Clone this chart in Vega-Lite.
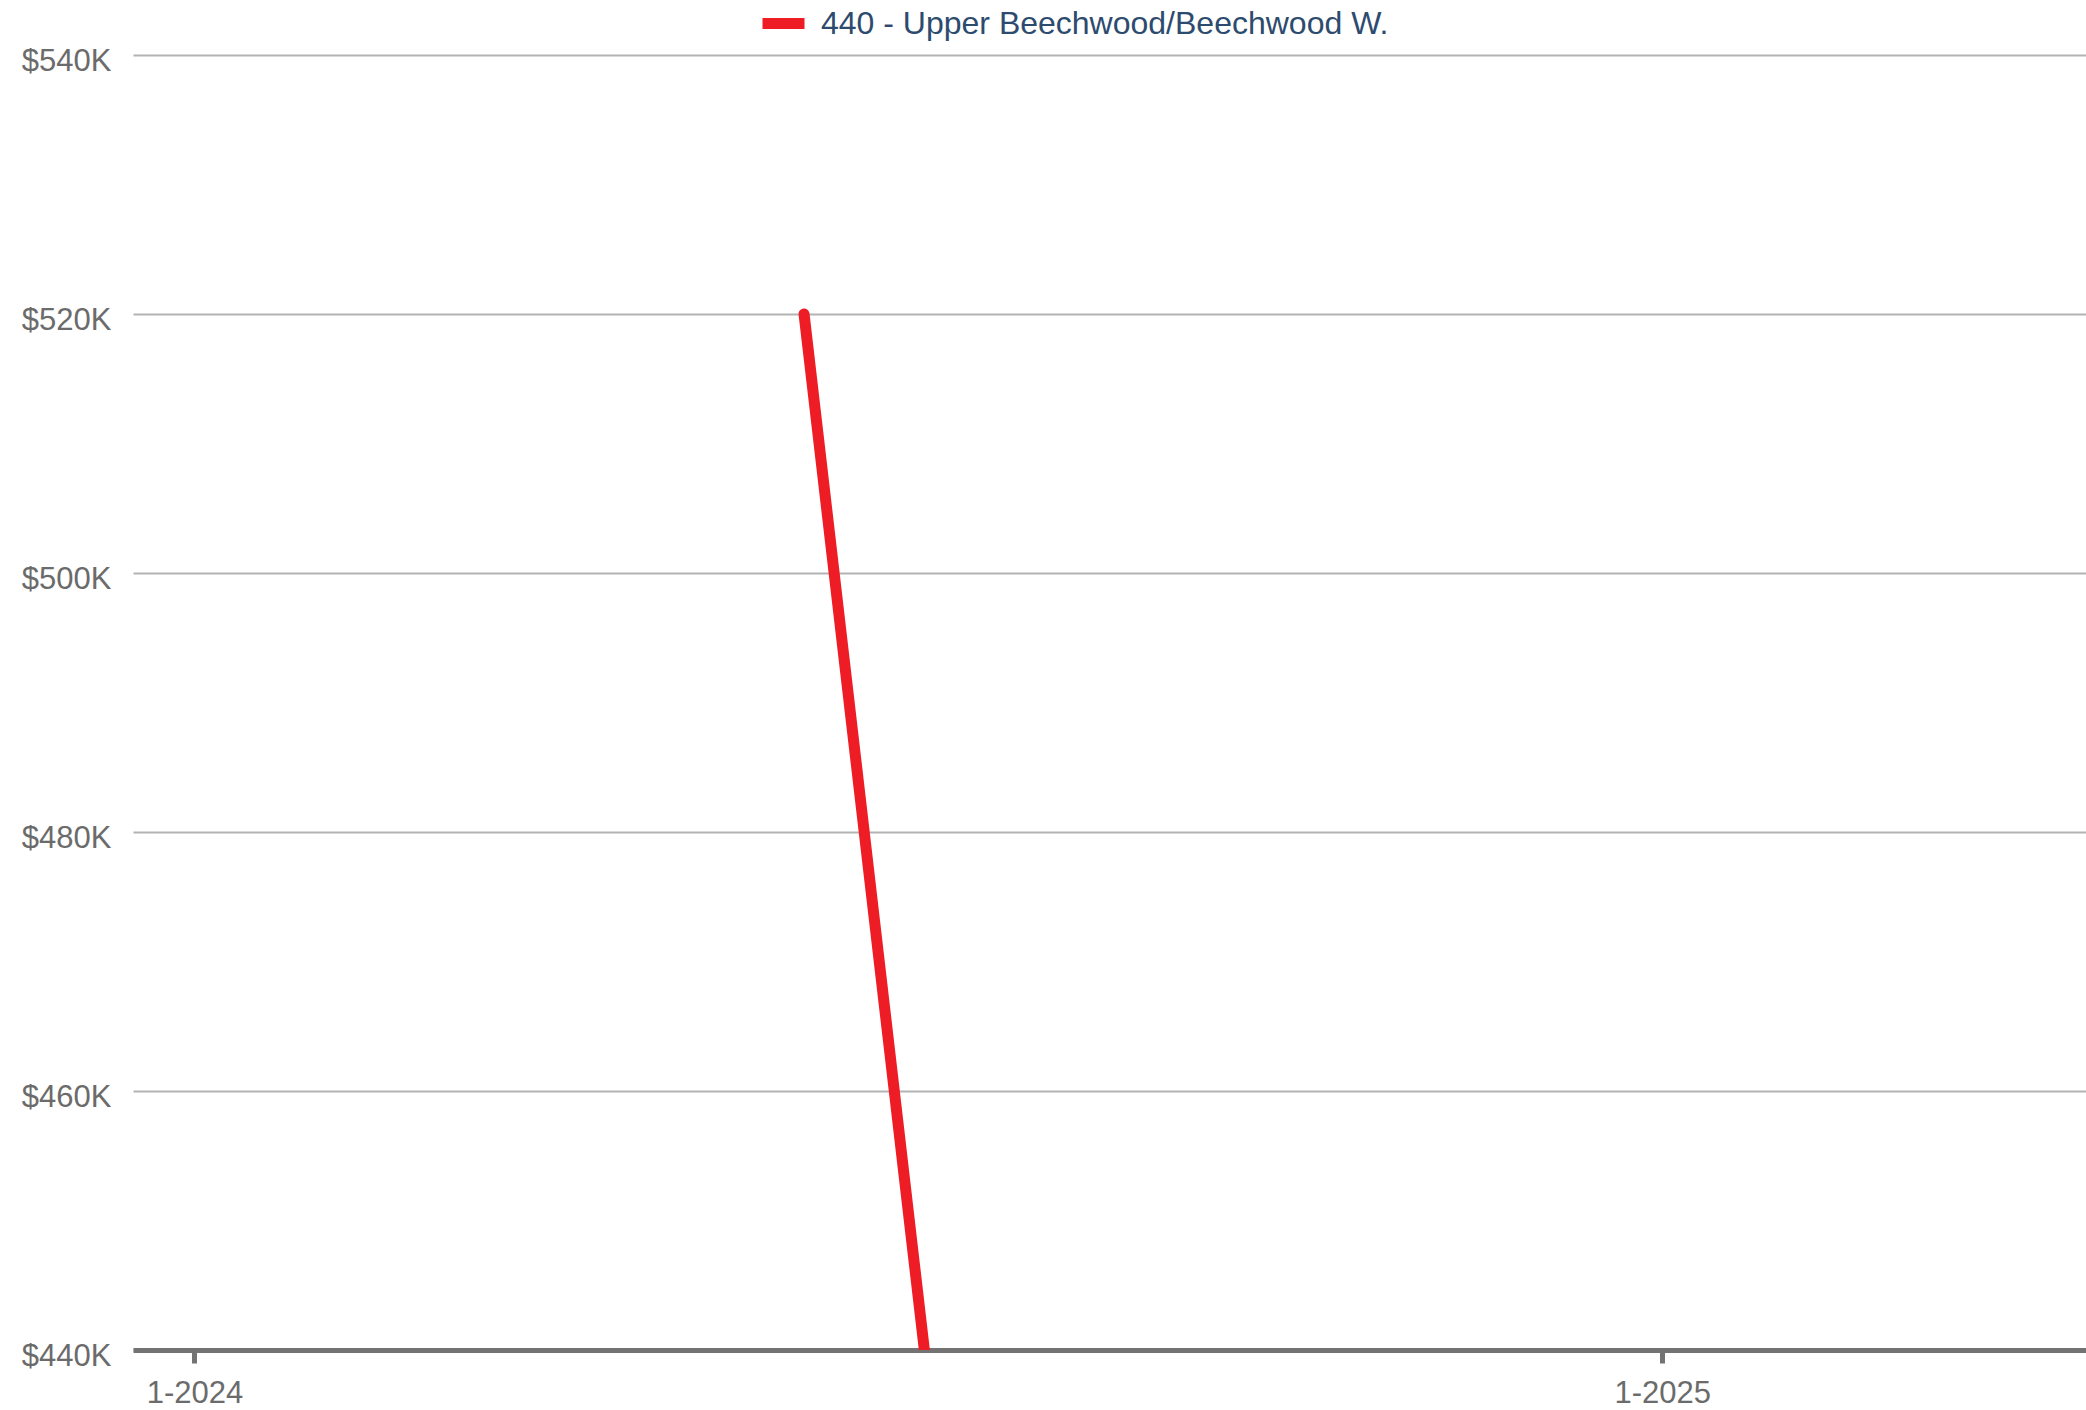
{
  "$schema": "https://vega.github.io/schema/vega-lite/v6.json",
  "autosize": {"type": "none"},
  "width": 1953,
  "height": 1295,
  "padding": {"left": 133, "top": 55, "right": 0, "bottom": 60},
  "background": "white",
  "config": {"view": {"stroke": null}, "font": "Liberation Sans"},
  "data": {"values": [
    {"date": "2024-06-01", "price": 520000, "series": "440 - Upper Beechwood/Beechwood W."},
    {"date": "2024-07-01", "price": 440000, "series": "440 - Upper Beechwood/Beechwood W."}
  ]},
  "mark": {"type": "line", "clip": true, "strokeWidth": 11, "strokeCap": "round", "strokeJoin": "round"},
  "encoding": {
    "x": {
      "field": "date", "type": "temporal",
      "scale": {"domain": [{"year": 2023, "month": 12, "date": 16, "hours": 16}, {"year": 2025, "month": 4, "date": 16, "hours": 16}]},
      "axis": {
        "title": null,
        "values": [{"year": 2024, "month": 1, "date": 1}, {"year": 2025, "month": 1, "date": 1}],
        "format": "%-m-%Y",
        "grid": false,
        "domainColor": "#737373", "domainWidth": 5,
        "tickColor": "#737373", "tickWidth": 5, "tickSize": 13,
        "labelColor": "#6b6b6b", "labelFontSize": 31, "labelFont": "Liberation Sans",
        "labelPadding": 15, "labelFlush": false
      }
    },
    "y": {
      "field": "price", "type": "quantitative",
      "scale": {"domain": [440000, 540000], "nice": false, "zero": false},
      "axis": {
        "title": null,
        "values": [440000, 460000, 480000, 500000, 520000, 540000],
        "labelExpr": "'$' + format(datum.value / 1000, 'd') + 'K'",
        "domain": false, "ticks": false,
        "gridColor": "#b3b3b3", "gridWidth": 2,
        "labelColor": "#6b6b6b", "labelFontSize": 31, "labelFont": "Liberation Sans",
        "labelPadding": 22, "labelOffset": 6
      }
    },
    "color": {
      "field": "series", "type": "nominal",
      "scale": {"range": ["#ee1c25"]},
      "legend": {
        "title": null, "orient": "none", "legendX": 624, "legendY": -58,
        "direction": "horizontal",
        "symbolType": "stroke", "symbolSize": 1764, "symbolStrokeWidth": 11,
        "labelFontSize": 32, "labelColor": "#2d4b6e", "labelFont": "Liberation Sans",
        "labelOffset": 11, "labelLimit": 1000
      }
    }
  }
}
